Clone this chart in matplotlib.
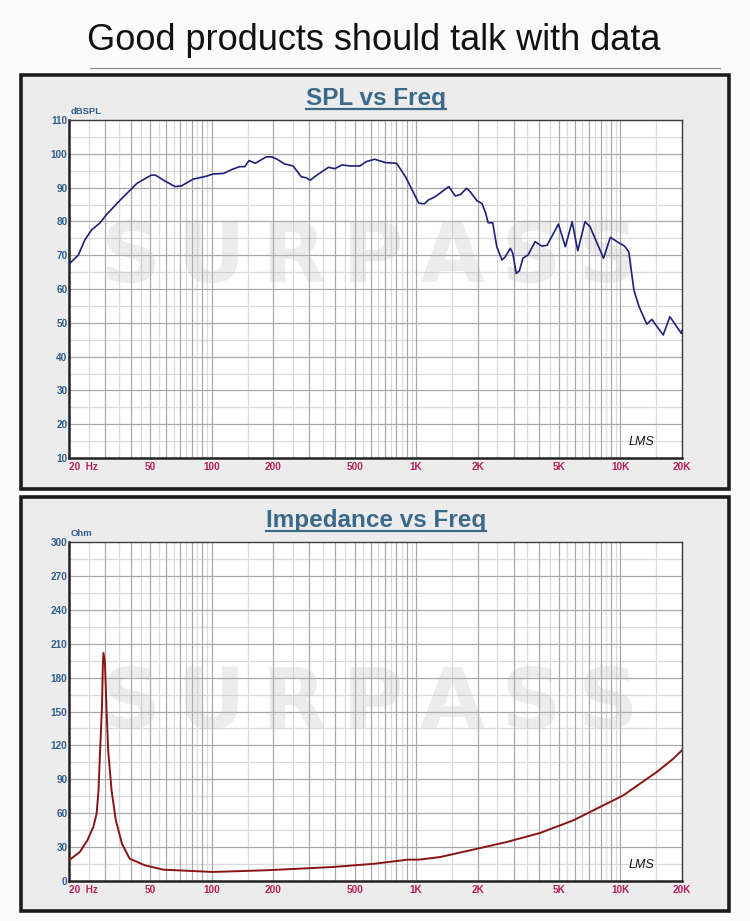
import numpy as np
import matplotlib
matplotlib.use("Agg")
import matplotlib.pyplot as plt
from matplotlib.patches import Rectangle
from matplotlib.lines import Line2D

# ---------------- data ----------------
spl_freq = [20, 22.2, 23.9, 25.8, 28.3, 30.5, 35.6, 43.1, 50.6, 53, 58, 66, 71, 81, 94.5,
            101, 114, 127, 137, 145, 152, 163, 185, 196, 207, 227, 250, 274, 290, 303,
            327, 372, 400, 433, 475, 530, 571, 626, 707, 802, 887, 1029, 1098, 1145,
            1240, 1443, 1555, 1650, 1765, 1837, 1985, 2100, 2190, 2250, 2370, 2480, 2630,
            2720, 2890, 2970, 3090, 3200, 3330, 3530, 3820, 4120, 4370, 4970, 5370, 5800,
            6180, 6700, 7100, 8260, 8920, 9620, 10460, 10980, 11630, 12320, 13450, 14230,
            16180, 17450, 19830, 20000]
spl_db = [67.4, 70, 74.5, 77.5, 79.5, 82, 86.3, 91.3, 93.7, 93.7, 92.2, 90.3, 90.5, 92.5, 93.4,
          94, 94.2, 95.5, 96.2, 96.2, 98, 97.2, 99.1, 99.1, 98.5, 97, 96.4, 93.2, 92.9, 92.2,
          93.7, 96, 95.6, 96.7, 96.4, 96.4, 97.7, 98.4, 97.4, 97.2, 93.2, 85.4, 85.2, 86.3,
          87.3, 90.3, 87.5, 88, 89.8, 88.8, 86.1, 85.3, 82.4, 79.6, 79.6, 72.5, 68.6,
          69.4, 72.0, 70.6, 64.6, 65.4, 69.1, 70.1, 74.0, 72.7, 72.9, 79.2, 72.5, 79.9,
          71.3, 79.9, 78.4, 69.1, 75.3, 74.0, 72.7, 71.0, 59.7, 54.8, 49.6, 51.0,
          46.4, 51.8, 46.9, 47.7]

imp_freq = [20, 22.6, 24.6, 26.3, 27.3, 27.9, 28.4, 29.0, 29.3, 29.5, 30.0, 30.5, 31.1,
            32.3, 33.9, 36.3, 39.6, 47, 58, 67, 101, 185, 393, 626, 910, 1030, 1309, 1906,
            2775, 4040, 5880, 7100, 8570, 10330, 12470, 15060, 18160, 20000]
imp_ohm = [18.3, 25.7, 36, 47.8, 59.6, 80.3, 115.7, 154, 192.4, 201.8, 192.4, 154, 115.7,
           80.3, 53.7, 33.1, 19.8, 13.9, 10, 9.5, 8, 9.5, 12.4, 15.3, 18.9, 18.9, 21.2, 27.8,
           34.5, 42.5, 53.7, 61.1, 68.5, 75.8, 86.2, 96.5, 108.3, 115.7]

x_ticks = [20, 50, 100, 200, 500, 1000, 2000, 5000, 10000, 20000]
x_labels = ["20  Hz", "50", "100", "200", "500", "1K", "2K", "5K", "10K", "20K"]
spl_ticks = list(range(10, 111, 10))
imp_ticks = list(range(0, 301, 30))

# ---------------- layout ----------------
W, H = 750, 921
fig = plt.figure(figsize=(W / 100, H / 100), dpi=100)
fig.patch.set_facecolor("#fbfbfb")

def fr(x0, y0, x1, y1):
    return [x0 / W, 1 - y1 / H, (x1 - x0) / W, (y1 - y0) / H]

SANS = ["Liberation Sans", "DejaVu Sans"]

# page title
fig.text(374 / W, 1 - 41 / H, "Good products should talk with data", ha="center", va="center",
         fontsize=26, family=SANS, color="#111111")
fig.add_artist(Line2D([90 / W, 720 / W], [1 - 68 / H, 1 - 68 / H], transform=fig.transFigure,
                      color="#555555", lw=0.8, alpha=0.7))

def panel(y0, y1):
    r = Rectangle((21 / W, 1 - y1 / H), (729 - 21) / W, (y1 - y0) / H, transform=fig.transFigure,
                  facecolor="#ececec", edgecolor="#1c1c1c", lw=2.6, zorder=0)
    fig.add_artist(r)

panel(75, 489)
panel(497, 911)

def make_axes(rect, ylim, yticks, ystep, unit, title, title_y, wm_y, freq, vals, color, lw):
    ax = fig.add_axes(fr(*rect))
    ax.set_facecolor("white")
    ax.set_xscale("log")
    ax.set_xlim(20, 20000)
    ax.set_ylim(*ylim)
    # grid
    for d in range(1, 5):
        for m in range(1, 10):
            f = m * 10 ** d
            if 20 < f < 20000:
                ax.axvline(f, color="#a9a9a9", lw=0.9, zorder=1)
            fh = (m + 0.5) * 10 ** d
            if 20 < fh < 20000:
                ax.axvline(fh, color="#dadada", lw=0.9, zorder=0.9)
    for v in yticks[1:-1]:
        ax.axhline(v, color="#a9a9a9", lw=0.9, zorder=1)
    for v in yticks[:-1]:
        ax.axhline(v + ystep / 2, color="#dadada", lw=0.9, zorder=0.9)
    # watermark
    ax.text(0.49, wm_y, "S\u2009U\u2009R\u2009P\u2009A\u2009S\u2009S", transform=ax.transAxes,
            ha="center", va="center", fontsize=60, fontweight="bold", family=["DejaVu Sans"],
            color="#bdbdbd", alpha=0.28, zorder=1.5)
    ax.plot(freq, vals, color=color, lw=lw, zorder=3)
    # ticks
    ax.set_xticks(x_ticks)
    ax.set_xticklabels(x_labels)
    ax.xaxis.set_minor_locator(matplotlib.ticker.NullLocator())
    ax.set_yticks(yticks)
    ax.tick_params(length=0, pad=3)
    for t in ax.get_xticklabels():
        t.set_color("#b4205e"); t.set_fontsize(7.2); t.set_fontweight("bold"); t.set_family(SANS)
    ax.get_xticklabels()[0].set_horizontalalignment("left")
    for t in ax.get_yticklabels():
        t.set_color("#2f5d8c"); t.set_fontsize(7.2); t.set_fontweight("bold"); t.set_family(SANS)
    ax.tick_params(axis="y", pad=1)
    for s in ["top", "right"]:
        ax.spines[s].set_color("#3a3a3a"); ax.spines[s].set_linewidth(1.0)
    for s in ["left", "bottom"]:
        ax.spines[s].set_color("#222222"); ax.spines[s].set_linewidth(1.8)
    ax.text(0.003, 1.012, unit, transform=ax.transAxes, ha="left", va="bottom", fontsize=6.8,
            color="#2f5d8c", family=SANS, fontweight="bold")
    ax.text(0.955, 0.03, "LMS", transform=ax.transAxes, ha="right", va="bottom", fontsize=9,
            style="italic", color="#111111", family=SANS)
    # panel title
    t = fig.text(376 / W, 1 - title_y / H, title, ha="center", va="center", fontsize=17.5,
                 fontweight="bold", family=SANS, color="#3b6a88")
    return ax, t

ax1, t1 = make_axes((69, 120, 682, 458), (10, 110), spl_ticks, 10, "dBSPL", "SPL vs Freq", 99, 0.59,
                    spl_freq, spl_db, "#1f1f7a", 1.2)
ax2, t2 = make_axes((69, 542, 682, 881), (0, 300), imp_ticks, 30, "Ohm", "Impedance vs Freq", 520, 0.52,
                    imp_freq, imp_ohm, "#8a1414", 1.4)

# underline the panel titles
fig.canvas.draw()
rend = fig.canvas.get_renderer()
for t in (t1, t2):
    bb = t.get_window_extent(rend)
    x0, x1 = bb.x0 / W, bb.x1 / W
    yb = (bb.y0 + 1) / H
    fig.add_artist(Line2D([x0, x1], [yb, yb], transform=fig.transFigure, color="#3b6a88", lw=1.6))

fig.savefig("out.png", dpi=100, facecolor=fig.get_facecolor())
